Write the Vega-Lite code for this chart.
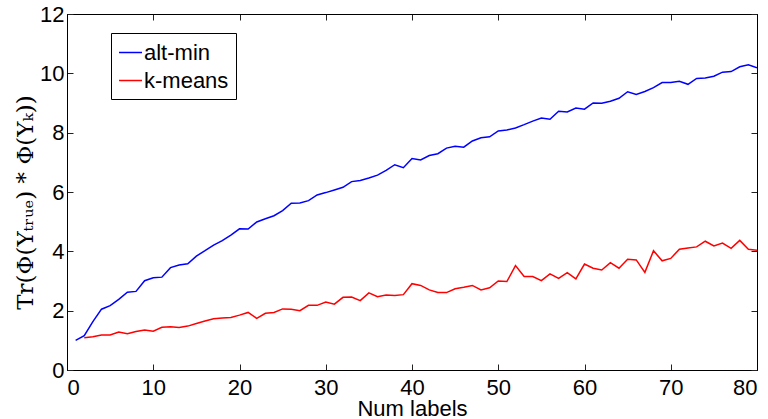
{
  "$schema": "https://vega.github.io/schema/vega-lite/v6.json",
  "width": 690,
  "height": 356,
  "autosize": {"type": "none"},
  "padding": {"left": 67, "top": 14, "right": 11, "bottom": 49},
  "background": "white",
  "config": {
    "view": {"stroke": "black", "strokeWidth": 1},
    "font": "Liberation Sans",
    "axis": {
      "grid": false,
      "domainColor": "black",
      "tickColor": "#222222",
      "tickWidth": 1,
      "tickSize": -6,
      "labelColor": "black",
      "labelFont": "Liberation Sans",
      "labelFontSize": 22,
      "titleColor": "black",
      "titleFontWeight": "normal"
    },
    "legend": {
      "orient": "none",
      "legendX": 44,
      "legendY": 19,
      "strokeColor": "black",
      "fillColor": "white",
      "padding": 7,
      "labelFontSize": 22,
      "labelFont": "Liberation Sans",
      "labelColor": "black",
      "symbolType": "stroke",
      "symbolSize": 530,
      "symbolStrokeWidth": 1.5,
      "rowPadding": 4,
      "labelOffset": 1
    }
  },
  "data": {
    "values": [
      {"n":1,"series":"alt-min","v":1.00},{"n":2,"series":"alt-min","v":1.16},{"n":3,"series":"alt-min","v":1.63},{"n":4,"series":"alt-min","v":2.05},{"n":5,"series":"alt-min","v":2.17},
      {"n":6,"series":"alt-min","v":2.38},{"n":7,"series":"alt-min","v":2.62},{"n":8,"series":"alt-min","v":2.65},{"n":9,"series":"alt-min","v":3.01},{"n":10,"series":"alt-min","v":3.11},
      {"n":11,"series":"alt-min","v":3.13},{"n":12,"series":"alt-min","v":3.45},{"n":13,"series":"alt-min","v":3.54},{"n":14,"series":"alt-min","v":3.58},{"n":15,"series":"alt-min","v":3.84},
      {"n":16,"series":"alt-min","v":4.02},{"n":17,"series":"alt-min","v":4.21},{"n":18,"series":"alt-min","v":4.36},{"n":19,"series":"alt-min","v":4.55},{"n":20,"series":"alt-min","v":4.76},
      {"n":21,"series":"alt-min","v":4.75},{"n":22,"series":"alt-min","v":4.99},{"n":23,"series":"alt-min","v":5.10},{"n":24,"series":"alt-min","v":5.20},{"n":25,"series":"alt-min","v":5.37},
      {"n":26,"series":"alt-min","v":5.62},{"n":27,"series":"alt-min","v":5.63},{"n":28,"series":"alt-min","v":5.71},{"n":29,"series":"alt-min","v":5.90},{"n":30,"series":"alt-min","v":5.98},
      {"n":31,"series":"alt-min","v":6.07},{"n":32,"series":"alt-min","v":6.16},{"n":33,"series":"alt-min","v":6.35},{"n":34,"series":"alt-min","v":6.39},{"n":35,"series":"alt-min","v":6.47},
      {"n":36,"series":"alt-min","v":6.57},{"n":37,"series":"alt-min","v":6.73},{"n":38,"series":"alt-min","v":6.92},{"n":39,"series":"alt-min","v":6.82},{"n":40,"series":"alt-min","v":7.13},
      {"n":41,"series":"alt-min","v":7.08},{"n":42,"series":"alt-min","v":7.23},{"n":43,"series":"alt-min","v":7.29},{"n":44,"series":"alt-min","v":7.48},{"n":45,"series":"alt-min","v":7.54},
      {"n":46,"series":"alt-min","v":7.51},{"n":47,"series":"alt-min","v":7.72},{"n":48,"series":"alt-min","v":7.83},{"n":49,"series":"alt-min","v":7.86},{"n":50,"series":"alt-min","v":8.06},
      {"n":51,"series":"alt-min","v":8.09},{"n":52,"series":"alt-min","v":8.16},{"n":53,"series":"alt-min","v":8.27},{"n":54,"series":"alt-min","v":8.39},{"n":55,"series":"alt-min","v":8.49},
      {"n":56,"series":"alt-min","v":8.45},{"n":57,"series":"alt-min","v":8.72},{"n":58,"series":"alt-min","v":8.70},{"n":59,"series":"alt-min","v":8.83},{"n":60,"series":"alt-min","v":8.79},
      {"n":61,"series":"alt-min","v":9.00},{"n":62,"series":"alt-min","v":8.99},{"n":63,"series":"alt-min","v":9.06},{"n":64,"series":"alt-min","v":9.16},{"n":65,"series":"alt-min","v":9.38},
      {"n":66,"series":"alt-min","v":9.29},{"n":67,"series":"alt-min","v":9.39},{"n":68,"series":"alt-min","v":9.52},{"n":69,"series":"alt-min","v":9.69},{"n":70,"series":"alt-min","v":9.69},
      {"n":71,"series":"alt-min","v":9.73},{"n":72,"series":"alt-min","v":9.63},{"n":73,"series":"alt-min","v":9.83},{"n":74,"series":"alt-min","v":9.84},{"n":75,"series":"alt-min","v":9.90},
      {"n":76,"series":"alt-min","v":10.04},{"n":77,"series":"alt-min","v":10.06},{"n":78,"series":"alt-min","v":10.22},{"n":79,"series":"alt-min","v":10.29},{"n":80,"series":"alt-min","v":10.19},
      {"n":2,"series":"k-means","v":1.09},{"n":3,"series":"k-means","v":1.12},{"n":4,"series":"k-means","v":1.18},{"n":5,"series":"k-means","v":1.18},
      {"n":6,"series":"k-means","v":1.28},{"n":7,"series":"k-means","v":1.22},{"n":8,"series":"k-means","v":1.30},{"n":9,"series":"k-means","v":1.35},{"n":10,"series":"k-means","v":1.31},
      {"n":11,"series":"k-means","v":1.44},{"n":12,"series":"k-means","v":1.46},{"n":13,"series":"k-means","v":1.43},{"n":14,"series":"k-means","v":1.48},{"n":15,"series":"k-means","v":1.57},
      {"n":16,"series":"k-means","v":1.65},{"n":17,"series":"k-means","v":1.73},{"n":18,"series":"k-means","v":1.75},{"n":19,"series":"k-means","v":1.77},{"n":20,"series":"k-means","v":1.85},
      {"n":21,"series":"k-means","v":1.94},{"n":22,"series":"k-means","v":1.74},{"n":23,"series":"k-means","v":1.91},{"n":24,"series":"k-means","v":1.94},{"n":25,"series":"k-means","v":2.06},
      {"n":26,"series":"k-means","v":2.05},{"n":27,"series":"k-means","v":2.00},{"n":28,"series":"k-means","v":2.18},{"n":29,"series":"k-means","v":2.18},{"n":30,"series":"k-means","v":2.29},
      {"n":31,"series":"k-means","v":2.22},{"n":32,"series":"k-means","v":2.45},{"n":33,"series":"k-means","v":2.46},{"n":34,"series":"k-means","v":2.34},{"n":35,"series":"k-means","v":2.60},
      {"n":36,"series":"k-means","v":2.47},{"n":37,"series":"k-means","v":2.53},{"n":38,"series":"k-means","v":2.51},{"n":39,"series":"k-means","v":2.54},{"n":40,"series":"k-means","v":2.91},
      {"n":41,"series":"k-means","v":2.85},{"n":42,"series":"k-means","v":2.70},{"n":43,"series":"k-means","v":2.61},{"n":44,"series":"k-means","v":2.61},{"n":45,"series":"k-means","v":2.74},
      {"n":46,"series":"k-means","v":2.79},{"n":47,"series":"k-means","v":2.85},{"n":48,"series":"k-means","v":2.70},{"n":49,"series":"k-means","v":2.77},{"n":50,"series":"k-means","v":3.00},
      {"n":51,"series":"k-means","v":2.98},{"n":52,"series":"k-means","v":3.52},{"n":53,"series":"k-means","v":3.15},{"n":54,"series":"k-means","v":3.15},{"n":55,"series":"k-means","v":3.01},
      {"n":56,"series":"k-means","v":3.24},{"n":57,"series":"k-means","v":3.09},{"n":58,"series":"k-means","v":3.28},{"n":59,"series":"k-means","v":3.07},{"n":60,"series":"k-means","v":3.57},
      {"n":61,"series":"k-means","v":3.43},{"n":62,"series":"k-means","v":3.37},{"n":63,"series":"k-means","v":3.62},{"n":64,"series":"k-means","v":3.43},{"n":65,"series":"k-means","v":3.73},
      {"n":66,"series":"k-means","v":3.71},{"n":67,"series":"k-means","v":3.29},{"n":68,"series":"k-means","v":4.02},{"n":69,"series":"k-means","v":3.68},{"n":70,"series":"k-means","v":3.76},
      {"n":71,"series":"k-means","v":4.07},{"n":72,"series":"k-means","v":4.11},{"n":73,"series":"k-means","v":4.15},{"n":74,"series":"k-means","v":4.34},{"n":75,"series":"k-means","v":4.18},
      {"n":76,"series":"k-means","v":4.28},{"n":77,"series":"k-means","v":4.10},{"n":78,"series":"k-means","v":4.37},{"n":79,"series":"k-means","v":4.07},{"n":80,"series":"k-means","v":4.04}
    ]
  },
  "layer": [
    {
      "mark": {"type": "line", "strokeWidth": 1.5, "clip": true},
      "encoding": {
        "x": {
          "field": "n", "type": "quantitative",
          "scale": {"domain": [0, 80], "nice": false, "zero": false},
          "axis": {"orient": "bottom", "values": [0,10,20,30,40,50,60,70,80], "title": "Num labels", "titleFontSize": 22, "titleFont": "Liberation Sans", "titlePadding": 0, "labelPadding": 13}
        },
        "y": {
          "field": "v", "type": "quantitative",
          "scale": {"domain": [0, 12], "nice": false},
          "axis": {"orient": "left", "values": [0,2,4,6,8,10,12], "title": "Tr(Φ(Yₜᵣᵤₑ)  *  Φ(Yₖ))", "titleFont": "DejaVu Serif", "titleFontSize": 23, "titlePadding": 2, "titleY": 188, "labelPadding": 9}
        },
        "color": {
          "field": "series", "type": "nominal",
          "scale": {"domain": ["alt-min", "k-means"], "range": ["#0000ff", "#ff0000"]},
          "legend": {"title": null}
        }
      }
    },
    {
      "mark": {"type": "line", "opacity": 0},
      "encoding": {
        "x": {
          "field": "n", "type": "quantitative",
          "axis": {"orient": "top", "values": [0,10,20,30,40,50,60,70,80], "labels": false, "title": null}
        },
        "y": {
          "field": "v", "type": "quantitative",
          "axis": {"orient": "right", "values": [0,2,4,6,8,10,12], "labels": false, "title": null}
        },
        "detail": {"field": "series"}
      }
    }
  ],
  "resolve": {"axis": {"x": "independent", "y": "independent"}}
}
